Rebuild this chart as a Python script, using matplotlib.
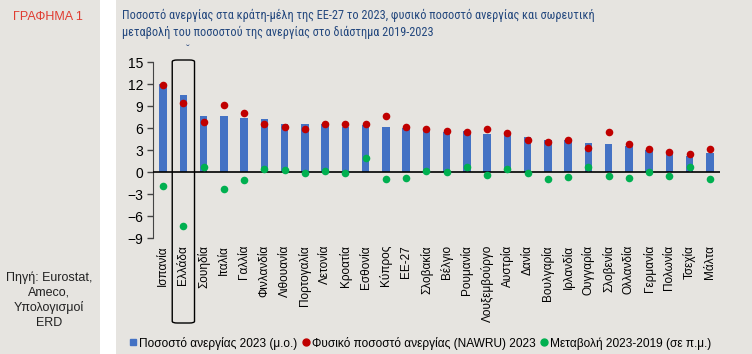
import matplotlib.pyplot as plt
import matplotlib.transforms as mtransforms
from matplotlib.patches import Rectangle, FancyBboxPatch
from matplotlib.lines import Line2D

plt.rcParams['font.family'] = ['Liberation Sans', 'DejaVu Sans']

# data
countries = ['Ισπανία', 'Ελλάδα', 'Σουηδία', 'Ιταλία', 'Γαλλία', 'Φινλανδία',
             'Λιθουανία', 'Πορτογαλία', 'Λετονία', 'Κροατία', 'Εσθονία', 'Κύπρος',
             'ΕΕ-27', 'Σλοβακία', 'Βέλγιο', 'Ρουμανία', 'Λουξεμβούργο', 'Αυστρία',
             'Δανία', 'Βουλγαρία', 'Ιρλανδία', 'Ουγγαρία', 'Σλοβενία', 'Ολλανδία',
             'Γερμανία', 'Πολωνία', 'Τσεχία', 'Μάλτα']
unemp_2023 = [12.0, 10.5, 7.7, 7.6, 7.3, 7.2, 6.6, 6.5, 6.5, 6.1, 6.4, 6.1,
              6.0, 5.8, 5.5, 5.6, 5.2, 5.1, 4.8, 4.3, 4.3, 4.0, 3.8, 3.6,
              3.0, 2.8, 2.2, 2.6]
nawru_2023 = [11.9, 9.4, 6.8, 9.2, 8.0, 6.5, 6.1, 5.9, 6.6, 6.5, 6.5, 7.7,
              6.2, 5.8, 5.6, 5.4, 5.8, 5.3, 4.4, 4.1, 4.4, 3.3, 5.5, 3.8,
              3.1, 2.7, 2.5, 3.2]
change_19_23 = [-1.95, -7.3, 0.7, -2.3, -1.1, 0.45, 0.3, -0.1, 0.1, -0.2, 1.9, -1.0,
                -0.8, 0.2, 0.0, 0.7, -0.4, 0.4, -0.1, -0.9, -0.7, 0.7, -0.55, -0.8,
                -0.05, -0.55, 0.7, -1.0]
yticks = [15, 12, 9, 6, 3, 0, -3, -6, -9]

W, H = 752, 354
bg = '#E6E4E0'
blue = '#4472C4'
red = '#C00000'
green = '#00B050'

fig = plt.figure(figsize=(W / 100, H / 100), dpi=100)
fig.patch.set_facecolor('white')
fig.add_artist(Rectangle((0, 0), 100 / W, 1, transform=fig.transFigure,
                         facecolor=bg, edgecolor='none', zorder=-10))
fig.add_artist(Rectangle((116 / W, 0), 1 - 116 / W, 1, transform=fig.transFigure,
                         facecolor=bg, edgecolor='none', zorder=-10))

ax = fig.add_axes([153 / W, (H - 238) / H, (720 - 153) / W, (238 - 62) / H])
ax.set_facecolor('none')

x = list(range(len(countries)))
ax.bar(x, unemp_2023, width=0.36, color=blue, zorder=2)
ax.axhline(0, color='black', lw=1.2, zorder=3)
ax.scatter(x, change_19_23, s=30, color=green, zorder=4, linewidths=0)
ax.scatter(x, nawru_2023, s=30, color=red, zorder=5, linewidths=0)

ax.set_xlim(-0.5, len(countries) - 0.5)
ax.set_ylim(-9, 15)
ax.set_yticks(yticks)
ax.tick_params(axis='y', labelsize=10, length=4, width=1, pad=3, color='#444444')
ax.set_xticks(x)
ax.set_xticklabels(countries, rotation=90, fontsize=8.5, va='top')
ax.tick_params(axis='x', length=0, pad=5)
for s in ['top', 'right', 'bottom']:
    ax.spines[s].set_visible(False)
ax.spines['left'].set_color('#444444')

# highlight box around Greece
trans = mtransforms.blended_transform_factory(ax.transData, fig.transFigure)
box = FancyBboxPatch((1 - 0.55, (H - 323) / H), 1.1, (323 - 60) / H,
                     boxstyle='round,pad=0,rounding_size=0.25',
                     transform=trans, facecolor='none', edgecolor='black',
                     lw=1.0, clip_on=False, mutation_aspect=0.02)
fig.add_artist(box)
fig.text(188 / W, 1 - 50 / H, 'ˇ', fontsize=8, color='#2E4C80', ha='center', va='center')

# titles and side text
title_font = ['Roboto Condensed', 'Liberation Sans', 'DejaVu Sans']
fig.text(122 / W, 1 - 15 / H,
         'Ποσοστό ανεργίας στα κράτη-μέλη της ΕΕ-27 το 2023, φυσικό ποσοστό ανεργίας και σωρευτική',
         fontsize=8.8, color='#24487E', va='center', family=title_font)
fig.text(122 / W, 1 - 32 / H,
         'μεταβολή του ποσοστού της ανεργίας στο διάστημα 2019-2023',
         fontsize=8.8, color='#24487E', va='center', family=title_font)
fig.text(48 / W, 1 - 17 / H, 'ΓΡΑΦΗΜΑ 1', fontsize=9, color='#E03C31',
         ha='center', va='center')
fig.text(49 / W, 1 - 300 / H, 'Πηγή: Eurostat,\nAmeco,\nΥπολογισμοί\nERD',
         fontsize=9, color='#222222', ha='center', va='center', linespacing=1.3)

handles = [
    Line2D([], [], marker='s', ls='none', color=blue, markersize=5),
    Line2D([], [], marker='o', ls='none', color=red, markersize=5),
    Line2D([], [], marker='o', ls='none', color=green, markersize=5),
]
labels = ['Ποσοστό ανεργίας 2023 (μ.ο.)', 'Φυσικό ποσοστό ανεργίας (NAWRU) 2023',
          'Μεταβολή 2023-2019 (σε π.μ.)']
fig.legend(handles, labels, loc='center', bbox_to_anchor=(420 / W, 1 - 343 / H),
           ncol=3, frameon=False, fontsize=8.6, handletextpad=0.1,
           columnspacing=0.3, handlelength=0.8, borderpad=0)

fig.savefig('out.png', dpi=100, facecolor=fig.get_facecolor())
